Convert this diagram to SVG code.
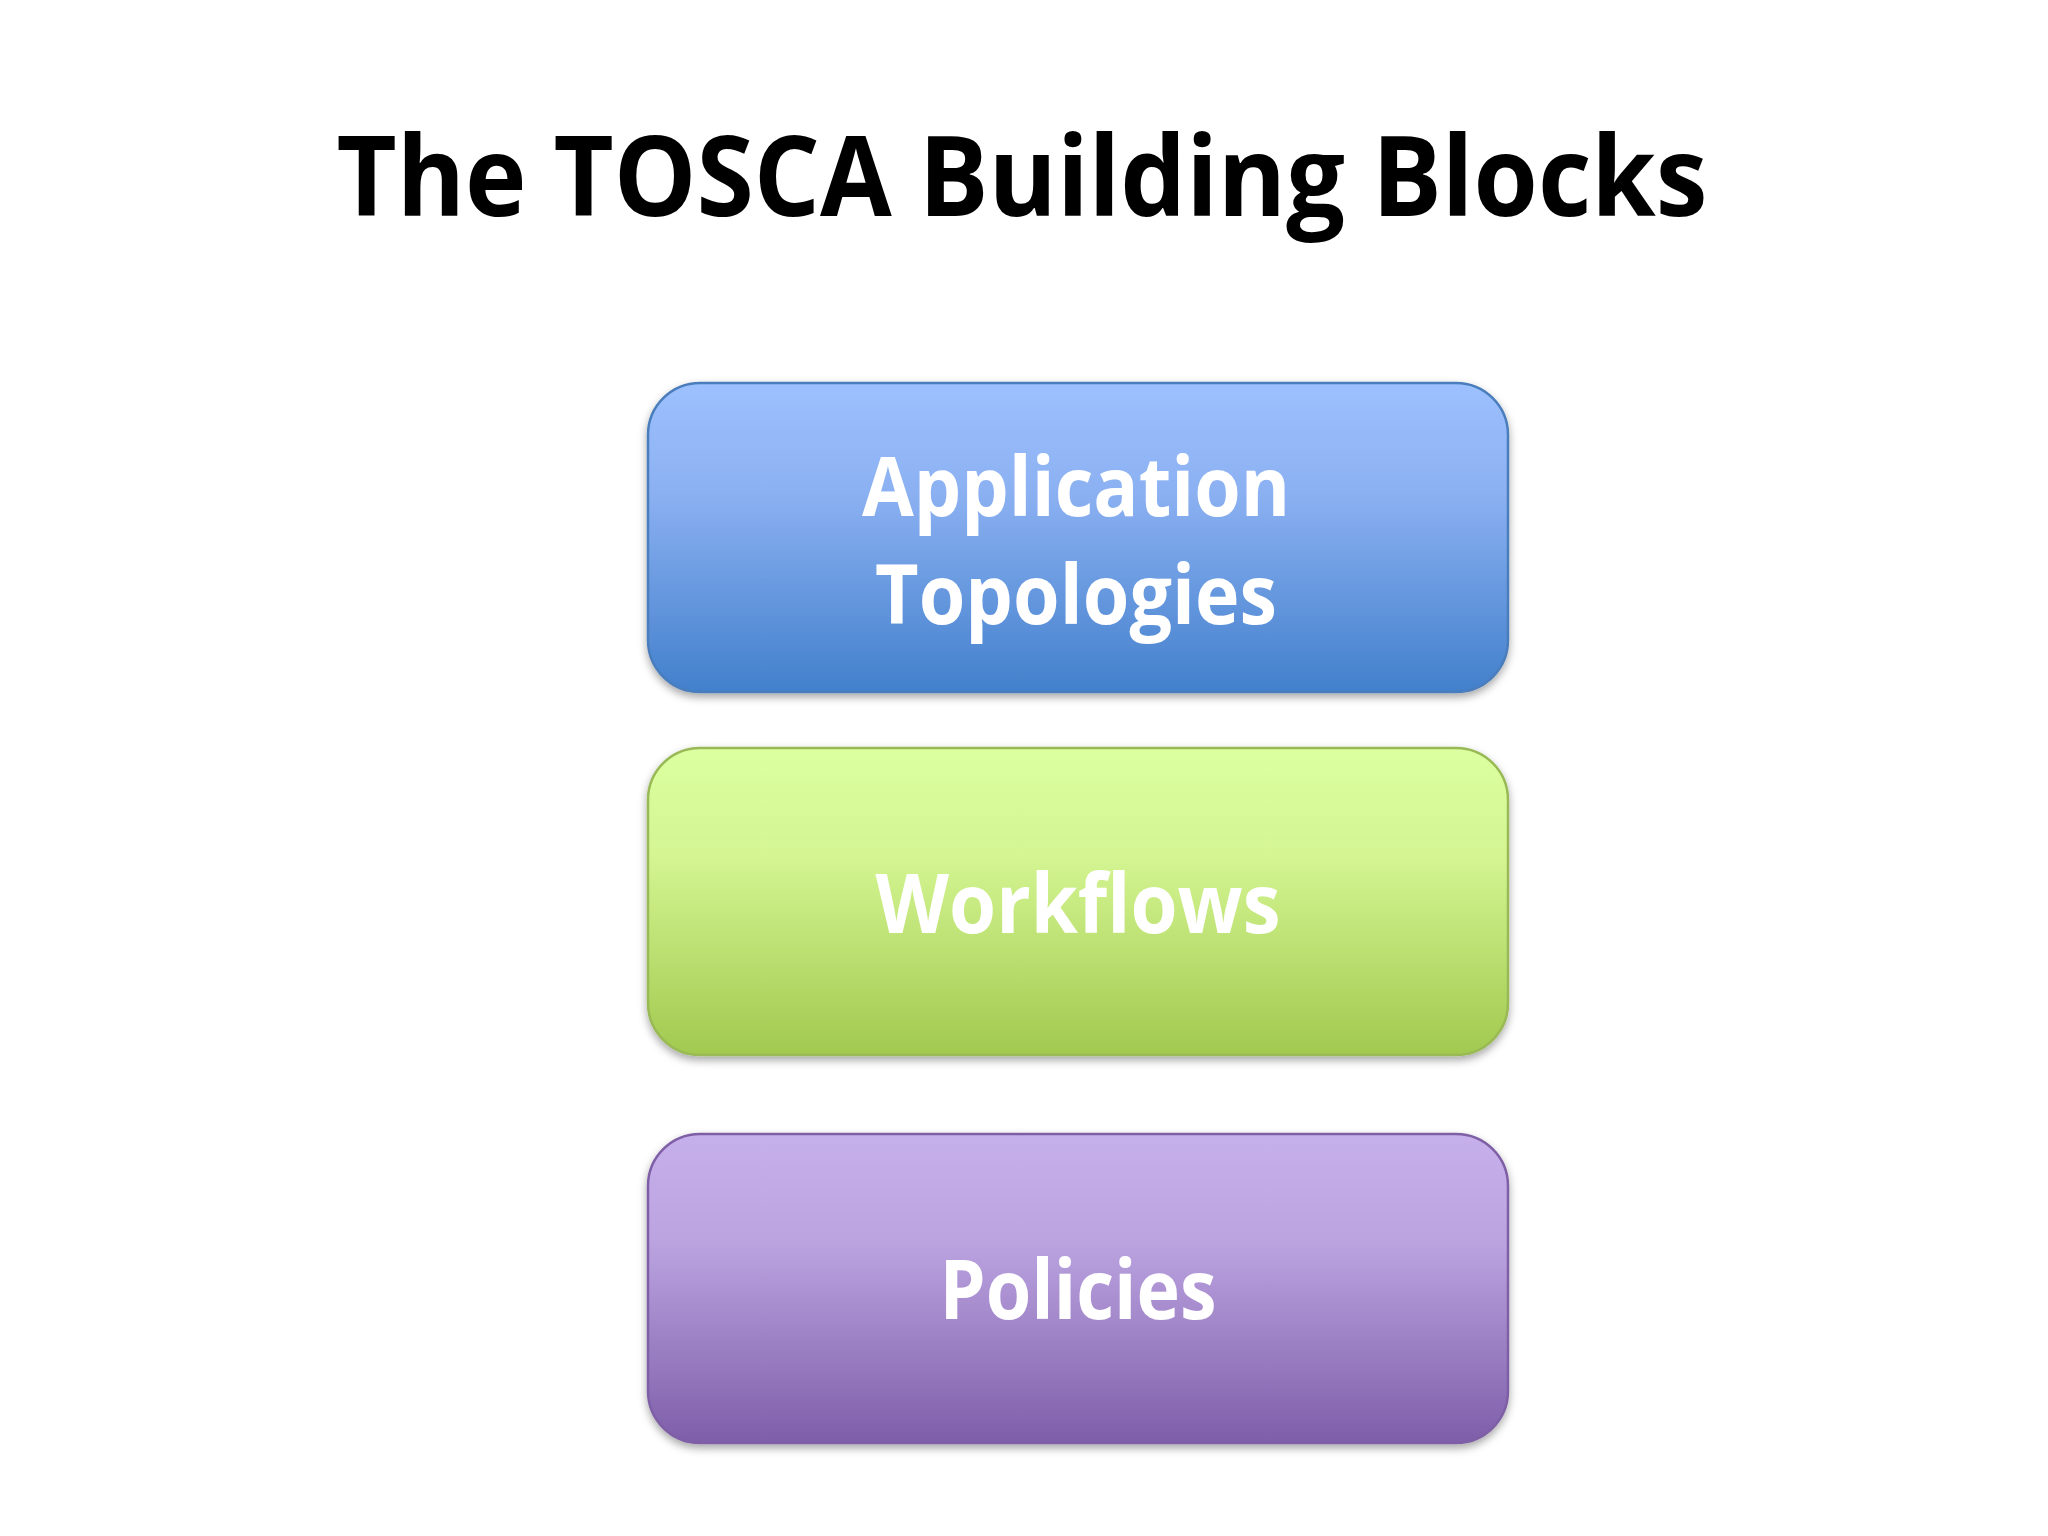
<svg xmlns="http://www.w3.org/2000/svg" width="2048" height="1536" viewBox="0 0 2048 1536">
<style>
.title{font-family:"Open Sans","Liberation Sans",sans-serif;font-weight:700;font-size:112px;fill:#000}
.lbl{font-family:"Open Sans","Liberation Sans",sans-serif;font-weight:700;font-size:82px;fill:#fff;text-anchor:middle}
.box{stroke-width:2.5}
</style>
<defs>
<linearGradient id="gBlue" x1="0" y1="0" x2="0" y2="1">
<stop offset="0" stop-color="#9dc0fe"/><stop offset="0.35" stop-color="#8cb1f2"/><stop offset="1" stop-color="#4280cc"/>
</linearGradient>
<linearGradient id="gGreen" x1="0" y1="0" x2="0" y2="1">
<stop offset="0" stop-color="#dcffa0"/><stop offset="0.35" stop-color="#d4f592"/><stop offset="1" stop-color="#a2c94f"/>
</linearGradient>
<linearGradient id="gPurple" x1="0" y1="0" x2="0" y2="1">
<stop offset="0" stop-color="#c6b0eb"/><stop offset="0.35" stop-color="#bba3e0"/><stop offset="1" stop-color="#7e5ea9"/>
</linearGradient>
<filter id="sh" x="-5%" y="-5%" width="110%" height="115%">
<feDropShadow dx="0" dy="4" stdDeviation="4" flood-color="#000" flood-opacity="0.35"/>
</filter>
</defs>
<rect width="2048" height="1536" fill="#fff"/>
<text id="title" class="title" x="1022" y="216" text-anchor="middle" textLength="1371" lengthAdjust="spacingAndGlyphs">The TOSCA Building Blocks</text>
<g id="connectors"/>
<g id="node-topologies">
<rect class="box" x="648" y="383" width="860" height="309" rx="52" fill="url(#gBlue)" stroke="#4a7dbb" filter="url(#sh)"/>
<text class="lbl" x="1076" y="516" textLength="428" lengthAdjust="spacingAndGlyphs">Application</text>
<text class="lbl" x="1076" y="624" textLength="402" lengthAdjust="spacingAndGlyphs">Topologies</text>
</g>
<g id="node-workflows">
<rect class="box" x="648" y="748" width="860" height="307" rx="52" fill="url(#gGreen)" stroke="#98b954" filter="url(#sh)"/>
<text class="lbl" x="1078" y="933" textLength="405" lengthAdjust="spacingAndGlyphs">Workflows</text>
</g>
<g id="node-policies">
<rect class="box" x="648" y="1134" width="860" height="309" rx="52" fill="url(#gPurple)" stroke="#7e5fa6" filter="url(#sh)"/>
<text class="lbl" x="1078" y="1319" textLength="277" lengthAdjust="spacingAndGlyphs">Policies</text>
</g>
</svg>
